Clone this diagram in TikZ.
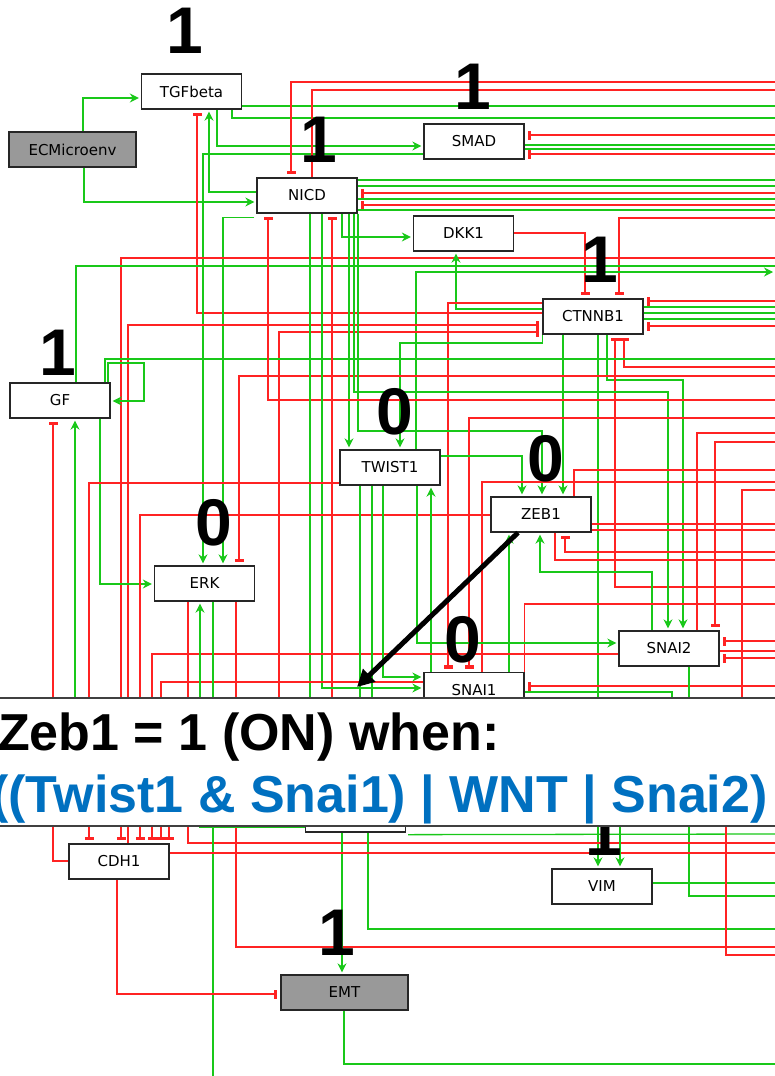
\documentclass[tikz,border=0pt]{standalone}
\usepackage{fontspec}
\setmainfont{DejaVu Sans}
\newfontfamily\libsans{Liberation Sans}
\usetikzlibrary{arrows.meta}
\definecolor{gG}{RGB}{25,200,25}
\definecolor{rR}{RGB}{255,35,35}
\definecolor{bluT}{RGB}{0,112,192}
\definecolor{grayF}{RGB}{153,153,153}
\pgfdeclarelayer{bg}
\pgfdeclarelayer{fg}
\pgfsetlayers{bg,main,fg}
\begin{document}
\begin{tikzpicture}[x=1pt,y=-1pt,
  box/.style={draw=black!85, line width=1.3pt, fill=white, minimum width=100pt, minimum height=35pt, inner sep=0pt, font=\fontsize{15}{17}\selectfont},
  gbox/.style={box, fill=grayF, minimum width=127pt},
  dig/.style={font=\libsans\bfseries\fontsize{66}{70}\selectfont, inner sep=0pt},
  act/.style={draw=gG, line width=1.3pt, -{Stealth[length=9pt,width=9pt]}, shorten >=2pt},
  inh/.style={draw=rR, line width=1.3pt, -{Rectangle[length=3.5pt,width=9pt]}, shorten >=3pt},
  gl/.style={draw=gG, line width=1.3pt},
  rl/.style={draw=rR, line width=1.3pt},
  big/.style={font=\libsans\bfseries\fontsize{52}{56}\selectfont, inner sep=0pt, anchor=base west}]
\useasboundingbox (0,0) rectangle (775,1076);
% nodes
\node[box] (TGF) at (191.5,91.5) {TGFbeta};
\node[gbox] (ECM) at (72.5,149.5) {ECMicroenv};
\node[box] (SMAD) at (474,141.5) {SMAD};
\node[box] (NICD) at (307,195.5) {NICD};
\node[box] (DKK) at (463.5,233.5) {DKK1};
\node[box] (CTN) at (593,316.5) {CTNNB1};
\node[box] (GF) at (60,400.5) {GF};
\node[box] (TW) at (390,467.5) {TWIST1};
\node[box] (ZEB) at (541,514.5) {ZEB1};
\node[box] (ERK) at (204.5,583.5) {ERK};
\node[box] (SN2) at (669,648.5) {SNAI2};
\node[box] (SN1) at (474,690) {SNAI1};
\node[box] (X) at (355.5,814.5) {};
\node[box] (CDH) at (119,861.5) {CDH1};
\node[box] (VIM) at (602,886.5) {VIM};
\node[gbox] (EMT) at (344.5,992.5) {EMT};
% state digits
\node[dig] (sTGF) at (184.5,31) {1};
\node[dig] (sSMAD) at (472.5,87) {1};
\node[dig] (sNICD) at (318.5,140) {1};
\node[dig] (sCTN) at (600,260) {1};
\node[dig] (sGF) at (57.5,353) {1};
\node[dig] (sTW) at (395,412) {0};
\node[dig] (sZEB) at (545.5,458.5) {0};
\node[dig] (sERK) at (214,523) {0};
\node[dig] (sSN1) at (462.5,640) {0};
\node[dig] (sEMT) at (336.5,933) {1};
\node[dig] (sVIM) at (604,833) {1};
% highlight arrow
\coordinate (tipA) at (357,687);
\draw[line width=5pt, -{Triangle[length=17pt,width=17pt]}] (ZEB.south -| 518,0) -- (tipA);

\begin{pgfonlayer}{bg}
\fill[white] (0,0) rectangle (775,1076);
% top
\draw[act] (ECM.north -| 83,0) |- (TGF.west |- 0,98);
\draw[act] (ECM.south -| 84,0) |- (NICD.west |- 0,202);
\draw[act] (NICD.west |- 0,192) -| (TGF.south -| 209,0);
\draw[inh] (CTN.west |- 0,313) -| (TGF.south -| 197,0);
\draw[gl] (TGF.east |- 0,106) -- (775,106);
\draw[gl] (TGF.south -| 232,0) |- (775,118);
\draw[act] (TGF.south -| 217,0) |- (SMAD.west |- 0,146);
\draw[act] (SMAD.west |- 0,154) -| (ERK.north -| 203,0);
\draw[act] (NICD.south west) ++(-2,4) -| (ERK.north -| 223,0);
\draw[inh] (775,82) -| (NICD.north -| 291,0);
\draw[rl] (NICD.north -| 312,0) |- (775,90);
\draw[inh] (775,135) -- (SMAD.east |- 0,135);
\draw[gl] (SMAD.east |- 0,145) -- (775,145);
\draw[gl] (SMAD.east |- 0,149) -- (775,149);
\draw[inh] (775,154) -- (SMAD.east |- 0,154);
\draw[gl] (NICD.east |- 0,180) -- (775,180);
\draw[gl] (NICD.east |- 0,186) -- (775,186);
\draw[inh] (775,193) -- (NICD.east |- 0,193);
\draw[gl] (NICD.east |- 0,199) -- (775,199);
\draw[inh] (775,205) -- (NICD.east |- 0,205);
\draw[gl] (NICD.east |- 0,210) -- (775,210);
\draw[act] (NICD.south -| 342,0) |- (DKK.west |- 0,237);
\draw[inh] (DKK.east |- 0,233) -| (CTN.north -| 585,0);
\draw[inh] (775,218) -| (CTN.north -| 619,0);
\draw[inh] (775,258) -| (CDH.north -| 121,0);
\draw[gl] (GF.north -| 76,0) |- (775,266);
\draw[act] (TW.north -| 416,0) |- (775,272);
% CTNNB1
\draw[act] (CTN.west |- 0,309) -| (DKK.south -| 456,0);
\draw[inh] (CTN.west |- 0,303) -| (SN1.north -| 448,0);
\draw[inh] (CDH.north -| 128,0) |- (CTN.west |- 0,325);
\draw[inh] (279,760) |- (CTN.west |- 0,332);
\draw[inh] (775,301) -- (CTN.east |- 0,301);
\draw[gl] (CTN.east |- 0,307) -- (775,307);
\draw[gl] (CTN.east |- 0,313) -- (775,313);
\draw[gl] (CTN.east |- 0,319) -- (775,319);
\draw[inh] (775,326) -- (CTN.east |- 0,326);
\draw[act] (CTN.south -| 563,0) -- (ZEB.north -| 563,0);
\draw[act] (CTN.south -| 598,0) -- (VIM.north -| 598,0);
\draw[act] (CTN.south -| 607,0) |- (683,380) -- (SN2.north -| 683,0);
\draw[inh] (775,587) -| (CTN.south -| 615,0);
\draw[inh] (775,367) -| (CTN.south -| 624,0);
\draw[act] (CTN.south west) |- (400,343) -- (TW.north -| 400,0);
% GF
\draw[gl] (GF.north -| 105,0) |- (775,359);
\draw[act] (GF.north -| 108,0) |- (144,363) |- (GF.east |- 0,401);
\draw[act] (GF.south -| 100,0) |- (ERK.west |- 0,584);
\draw[inh] (CDH.west |- 0,861) -| (GF.south -| 53,0);
\draw[act] (75,760) -- (GF.south -| 75,0);
% NICD down
\draw[inh] (775,376) -| (ERK.north -| 239,0);
\draw[act] (NICD.south -| 349,0) -- (TW.north -| 349,0);
\draw[act] (NICD.south -| 354,0) |- (668,392) -- (SN2.north -| 668,0);
\draw[act] (NICD.south -| 358,0) |- (542,431) -- (ZEB.north -| 542,0);
\draw[inh] (775,400) -| (NICD.south -| 268,0);
\draw[act] (NICD.south -| 310,0) -- (X.north -| 310,0);
\draw[inh] (X.north -| 332,0) -- (NICD.south -| 332,0);
\draw[act] (NICD.south -| 322,0) |- (SN1.west |- 0,688);
% middle right
\draw[inh] (775,418) -| (SN1.north -| 469,0);
\draw[rl] (SN2.north -| 697,0) |- (775,433);
\draw[inh] (775,442) -| (SN2.north -| 715,0);
\draw[act] (TW.east |- 0,456) -| (ZEB.north -| 522,0);
\draw[rl] (ZEB.north -| 574,0) |- (775,470);
\draw[rl] (SN1.north -| 482,0) |- (775,482);
\draw[rl] (775,490) -| (742,760);
\draw[inh] (TW.west |- 0,483) -| (CDH.north -| 89,0);
\draw[inh] (ZEB.west |- 0,515) -| (CDH.north -| 140,0);
\draw[rl] (ZEB.east |- 0,524) -- (775,524);
\draw[rl] (ZEB.east |- 0,530) -- (775,530);
\draw[inh] (775,552) -| (ZEB.south -| 565,0);
\draw[rl] (ZEB.south -| 555,0) |- (775,560);
\draw[act] (SN2.north -| 652,0) |- (540,572) -- (ZEB.south -| 540,0);
\draw[act] (SN1.north -| 509,0) -- (ZEB.south -| 509,0);
\draw[act] (SN1.north -| 431,0) -- (TW.south -| 431,0);
\draw[rl] (SN1.north east) |- (775,604);
\draw[act] (TW.south -| 417,0) |- (SN2.west |- 0,643);
\draw[inh] (SN2.west |- 0,654) -| (CDH.north -| 152,0);
\draw[inh] (775,641) -- (SN2.east |- 0,641);
\draw[rl] (SN2.east |- 0,651) -- (775,651);
\draw[inh] (775,658) -- (SN2.east |- 0,658);
\draw[inh] (SN1.west |- 0,682) -| (CDH.north -| 161,0);
\draw[act] (TW.south -| 383,0) |- (SN1.west |- 0,677);
\draw[act] (TW.south -| 360,0) -- (X.north -| 360,0);
\draw[act] (TW.south -| 372,0) -- (X.north -| 372,0);
\draw[inh] (775,686) -- (SN1.east |- 0,686);
\draw[gl] (SN1.east |- 0,692) -| (672,760);
\draw[gl] (SN2.south -| 689,0) |- (775,896);
% ERK
\draw[rl] (ERK.south -| 188,0) |- (775,843);
\draw[rl] (ERK.south -| 236,0) |- (775,947);
\draw[gl] (ERK.south -| 213,0) -- (213,1076);
\draw[act] (X.west |- 0,827) -| (ERK.south -| 200,0);
% bottom
\draw[act] (X.south -| 342,0) -- (EMT.north -| 342,0);
\draw[gl] (X.south -| 368,0) |- (775,929);
\draw[gl] (X.south east) ++(2,2) -- (775,834);
\draw[rl] (CDH.east |- 0,853) -- (775,853);
\draw[inh] (169,760) -- (CDH.north -| 169,0);
\draw[inh] (CDH.south -| 117,0) |- (EMT.west |- 0,994);
\draw[gl] (EMT.south -| 344,0) |- (775,1064);
\draw[gl] (VIM.east |- 0,883) -- (775,883);
\draw[rl] (726,760) |- (775,955);
\draw[act] (620,760) -- (VIM.north -| 620,0);
\end{pgfonlayer}

\begin{pgfonlayer}{fg}
\fill[white] (0,698) rectangle (775,826);
\draw[line width=1.8pt, black!75] (0,698) -- (775,698);
\draw[line width=1.8pt, black!75] (0,826) -- (775,826);
\node[big] (cap1) at (-2,750) {Zeb1 = 1 (ON) when:};
\node[big, text=bluT] (cap2) at (-9,812) {((Twist1 \& Snai1) | WNT | Snai2)};
\end{pgfonlayer}
\end{tikzpicture}
\end{document}
